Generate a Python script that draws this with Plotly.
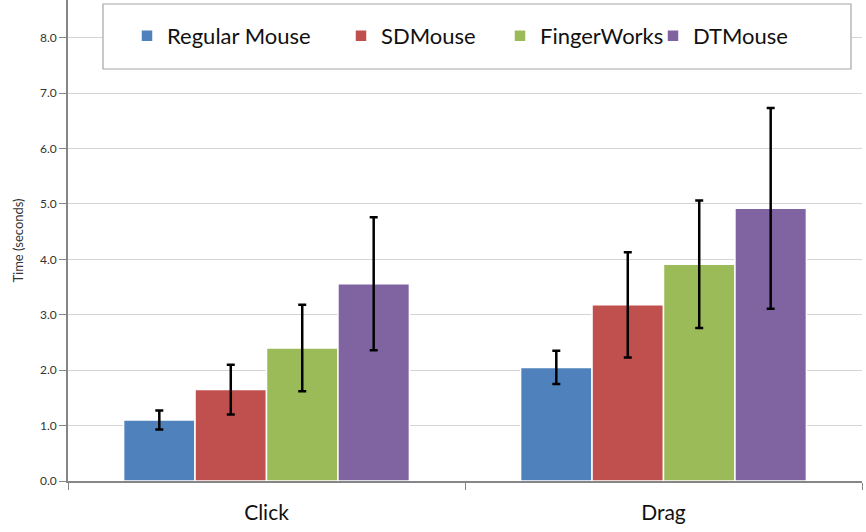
import plotly.graph_objects as go

categories = ["Click", "Drag"]
series_names = ["Regular Mouse", "SDMouse", "FingerWorks", "DTMouse"]
colors = ["#4f81bd", "#c0504d", "#9bbb59", "#8064a2"]
means = {
    "Regular Mouse": [1.10, 2.05],
    "SDMouse": [1.65, 3.18],
    "FingerWorks": [2.40, 3.91],
    "DTMouse": [3.56, 4.92],
}
errors = {
    "Regular Mouse": [0.17, 0.30],
    "SDMouse": [0.45, 0.95],
    "FingerWorks": [0.78, 1.15],
    "DTMouse": [1.20, 1.81],
}
y_ticks = [0, 1, 2, 3, 4, 5, 6, 7, 8]

# layout geometry (pixels)
PL, PR, PB = 68, 4, 51
PW, PH = 866 - PL - PR, 532 - PB
legend_px = [142, 356, 515, 668]   # left edge of each legend entry symbol
legend_keys = ["legend", "legend2", "legend3", "legend4"]

font_family = "Lato, 'Open Sans', sans-serif"

fig = go.Figure()
for name, c, lk in zip(series_names, colors, legend_keys):
    fig.add_trace(go.Bar(
        x=categories, y=means[name], name=name, legend=lk,
        marker=dict(color=c, line=dict(color="white", width=1.5)),
        error_y=dict(type="data", array=errors[name], color="black",
                     thickness=2.5, width=4),
    ))

legend_common = dict(orientation="h", xanchor="left", y=1 - 36 / PH,
                     yanchor="middle", bgcolor="rgba(0,0,0,0)",
                     font=dict(size=22, family=font_family, color="#111"),
                     itemwidth=30)
legends = {}
for lk, px in zip(legend_keys, legend_px):
    legends[lk] = dict(legend_common, x=(px - 15 - PL) / PW)

fig.update_layout(
    width=866, height=532,
    margin=dict(l=PL, r=PR, t=0, b=PB),
    paper_bgcolor="white", plot_bgcolor="white",
    barmode="group", bargap=0.28, bargroupgap=0,
    font=dict(family=font_family, color="#222"),
    showlegend=True,
    shapes=[dict(type="rect", xref="paper", yref="paper",
                 x0=(103 - PL) / PW, x1=(851 - PL) / PW,
                 y0=1 - 69 / PH, y1=1 - 4 / PH,
                 fillcolor="white", line=dict(color="#a6a6a6", width=1.2),
                 layer="above")],
    xaxis=dict(showline=True, linecolor="#868686", linewidth=1.5,
               ticks="outside", tickson="boundaries", ticklen=7,
               tickcolor="#868686", ticklabelstandoff=12,
               tickfont=dict(size=21, family=font_family, color="#111")),
    yaxis=dict(range=[0, 8.68], tickvals=y_ticks,
               ticktext=[f"{v:.1f}" for v in y_ticks],
               showgrid=True, gridcolor="#d4d4d4", gridwidth=1.2,
               showline=True, linecolor="#868686", linewidth=1.5,
               ticks="outside", ticklen=7, tickcolor="#868686",
               tickfont=dict(size=12, family=font_family, color="#333"),
               title=dict(text="Time (seconds)", standoff=14,
                          font=dict(size=13, family=font_family, color="#333")),
               zeroline=False),
    **legends,
)

fig.write_html("out.html")
